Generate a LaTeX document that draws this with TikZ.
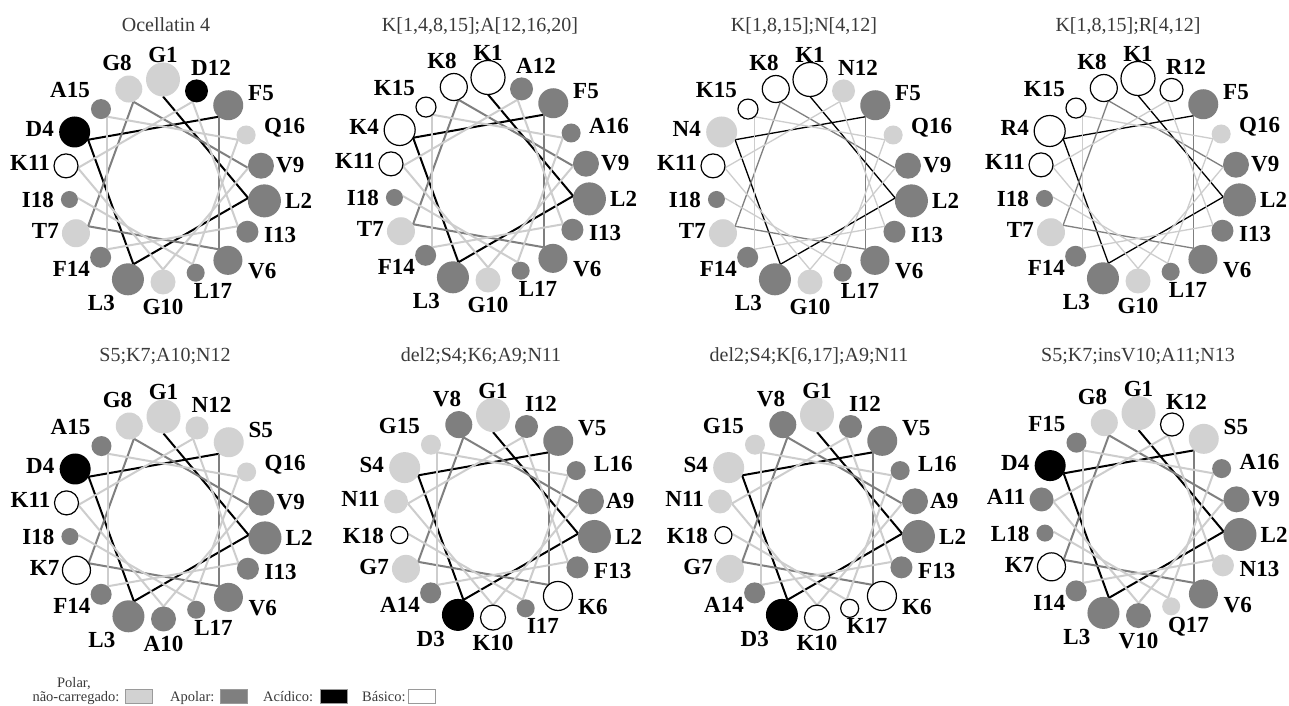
\documentclass[tikz,border=0pt]{standalone}
\usepackage{fontspec}
\setmainfont{Liberation Serif}
\pgfdeclarelayer{back}
\pgfdeclarelayer{paper}
\pgfsetlayers{paper,back,main}
\definecolor{polc}{HTML}{D2D2D2}
\definecolor{apoc}{HTML}{7F7F7F}
\definecolor{segg}{HTML}{7F7F7F}
\definecolor{segl}{HTML}{CDCDCD}
\definecolor{ttl}{HTML}{3A3A3A}
\definecolor{sqedge}{HTML}{9A9A9A}
\newcommand\posanc[1]{\ifcase#1\or south\or west\or east\or east\or west\or west\or east\or south\or west\or north\or east\or south\or west\or east\or east\or west\or north\or east\fi}
\tikzset{
  resP/.style={circle, inner sep=0pt, outer sep=0pt, fill=polc},
  resA/.style={circle, inner sep=0pt, outer sep=0pt, fill=apoc},
  resD/.style={circle, inner sep=0pt, outer sep=0pt, fill=black},
  resB/.style={circle, inner sep=0pt, outer sep=0pt, fill=white, draw=black, line width=1.2pt},
  reslab/.style={font=\fontsize{23}{23}\selectfont\bfseries, inner sep=0pt, text=black},
  ttlstyle/.style={font=\fontsize{20}{20}\selectfont, text=ttl, inner sep=0pt, anchor=base},
  legtxt/.style={font=\fontsize{14.5}{14.5}\selectfont, text=ttl, inner sep=0pt},
  legsq/.style={rectangle, draw=sqedge, line width=0.8pt, minimum width=26.5pt, minimum height=14pt, inner sep=0pt, anchor=south west},
  seg1/.style={draw=black},
  seg2/.style={draw=segg},
  seg3/.style={draw=segl},
}
\newcommand\hwheel[5]{%
 \begin{scope}[shift={(#2,#3)}]
  \foreach \lab/\cls [count=\k] in {#5} {
   \pgfmathsetmacro\rr{17-0.5*(\k-1)}
   \pgfmathtruncatemacro\ang{90-100*(\k-1)}
   \pgfmathsetmacro\RR{86.5+\rr}
   \pgfmathsetmacro\ldx{{0,122,-48,-109,85,85,-104,-46,113,0,-113,48,101,-73,-73,101,50,-109}[\k-1]}
   \pgfmathsetmacro\ldy{{120,-18,-120,54,90,-88,-48,112,18,-116,20,107,-52,-86,93,55,-100,-17}[\k-1]}
   \edef\anc{\posanc{\k}}
   \node[res\cls, minimum size=2*\rr] (#1-\k) at (\ang:\RR) {};
   \node[reslab, anchor=\anc] (#1-l\k) at (\ldx,\ldy) {\lab};
  }
  \begin{pgfonlayer}{back}
  \foreach \k in {1,...,17} {
   \pgfmathtruncatemacro\kn{\k+1}
   \pgfmathtruncatemacro\aa{mod(270-100*(\k-1)+3600,360)}
   \pgfmathtruncatemacro\ab{mod(270-100*\k+3600,360)}
   \pgfmathtruncatemacro\sg{\k<5 ? 1 : (\k<9 ? 2 : 3)}
   \draw[seg\sg, line width=#4] (#1-\k.\aa) -- (#1-\kn.\ab);
  }
  \end{pgfonlayer}
 \end{scope}}
\begin{document}
\begin{tikzpicture}[x=1pt,y=1pt]
\begin{pgfonlayer}{paper}
\fill[white] (0,0) rectangle (1289,706);
\end{pgfonlayer}
\useasboundingbox (0,0) rectangle (1289,706);

\node[ttlstyle] (t1) at (166,674) {Ocellatin 4};
\node[ttlstyle] (t2) at (480,674) {K[1,4,8,15];A[12,16,20]};
\node[ttlstyle] (t3) at (804,674) {K[1,8,15];N[4,12]};
\node[ttlstyle] (t4) at (1128,674) {K[1,8,15];R[4,12]};
\node[ttlstyle] (t5) at (165,344) {S5;K7;A10;N12};
\node[ttlstyle] (t6) at (481,344) {del2;S4;K6;A9;N11};
\node[ttlstyle] (t7) at (809,344) {del2;S4;K[6,17];A9;N11};
\node[ttlstyle] (t8) at (1138,344) {S5;K7;insV10;A11;N13};

\hwheel{wa}{163}{523}{2pt}{G1/P,L2/A,L3/A,D4/D,F5/A,V6/A,T7/P,G8/P,V9/A,G10/P,K11/B,D12/D,I13/A,F14/A,A15/A,Q16/P,L17/A,I18/A}
\hwheel{wb}{488}{525}{2pt}{K1/B,L2/A,L3/A,K4/B,F5/A,V6/A,T7/P,K8/B,V9/A,G10/P,K11/B,A12/A,I13/A,F14/A,K15/B,A16/A,L17/A,I18/A}
\hwheel{wc}{810}{523}{1.3pt}{K1/B,L2/A,L3/A,N4/P,F5/A,V6/A,T7/P,K8/B,V9/A,G10/P,K11/B,N12/P,I13/A,F14/A,K15/B,Q16/P,L17/A,I18/A}
\hwheel{wd}{1138}{524}{1.3pt}{K1/B,L2/A,L3/A,R4/B,F5/A,V6/A,T7/P,K8/B,V9/A,G10/P,K11/B,R12/B,I13/A,F14/A,K15/B,Q16/P,L17/A,I18/A}
\hwheel{we}{163.5}{186}{2pt}{G1/P,L2/A,L3/A,D4/D,S5/P,V6/A,K7/B,G8/P,V9/A,A10/A,K11/B,N12/P,I13/A,F14/A,A15/A,Q16/P,L17/A,I18/A}
\hwheel{wf}{493}{187.4}{2pt}{G1/P,L2/A,D3/D,S4/P,V5/A,K6/B,G7/P,V8/A,A9/A,K10/B,N11/P,I12/A,F13/A,A14/A,G15/P,L16/A,I17/A,K18/B}
\hwheel{wg}{817}{187.4}{2pt}{G1/P,L2/A,D3/D,S4/P,V5/A,K6/B,G7/P,V8/A,A9/A,K10/B,N11/P,I12/A,F13/A,A14/A,G15/P,L16/A,K17/B,K18/B}
\hwheel{wh}{1138.5}{189.4}{2pt}{G1/P,L2/A,L3/A,D4/D,S5/P,V6/A,K7/B,G8/P,V9/A,V10/A,A11/A,K12/B,N13/P,I14/A,F15/A,A16/A,Q17/P,L18/A}

\node[legtxt, anchor=base] (lg1a) at (74,18) {Polar,};
\node[legtxt, anchor=base] (lg1b) at (76,5) {não-carregado:};
\node[legsq, fill=polc] (sq1) at (125,2) {};
\node[legtxt, anchor=base west] (lg2) at (170,5) {Apolar:};
\node[legsq, fill=apoc] (sq2) at (220,2) {};
\node[legtxt, anchor=base west] (lg3) at (263,5) {Acídico:};
\node[legsq, fill=black] (sq3) at (320,2) {};
\node[legtxt, anchor=base west] (lg4) at (362,5) {Básico:};
\node[legsq, fill=white] (sq4) at (408,2) {};
\end{tikzpicture}
\end{document}
